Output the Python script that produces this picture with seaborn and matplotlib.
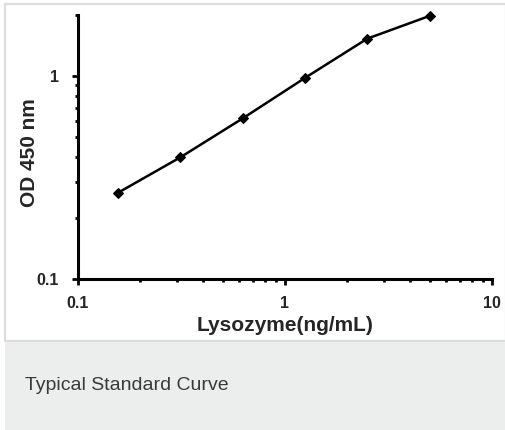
import numpy as np
import pandas as pd
import matplotlib
matplotlib.use("Agg")
import matplotlib.pyplot as plt
import matplotlib.ticker as mticker
from matplotlib.patches import Rectangle
import seaborn as sns

# 标准曲线数据
conc = [0.156, 0.3125, 0.625, 1.25, 2.5, 5.0]
od450 = [0.266, 0.398, 0.619, 0.98, 1.53, 1.98]

x_ticks = [0.1, 1, 10]
x_tick_labels = ["0.1", "1", "10"]
y_ticks = [0.1, 1]
y_tick_labels = ["0.1", "1"]

sns.set_style("white")
plt.rcParams['font.family'] = ['Liberation Sans', 'DejaVu Sans']

df = pd.DataFrame({"conc": conc, "od": od450})

fig = plt.figure(figsize=(5.06, 4.30), dpi=100)
W, H = 506, 430

# 背景: 白框 + 灰色标题栏
fig.patches.append(Rectangle((5 / W, 1 - 341 / H), 1 - 5 / W, (341 - 4) / H,
                             transform=fig.transFigure, facecolor='white',
                             edgecolor='#dddddd', linewidth=1.6, zorder=-2))
fig.patches.append(Rectangle((5 / W, 0), 1 - 5 / W, (H - 342) / H,
                             transform=fig.transFigure, facecolor='#eceeed',
                             edgecolor='none', zorder=-2))

ax = fig.add_axes([78 / W, 1 - 279 / H, (492 - 78) / W, (279 - 15) / H])
ax.set_facecolor('none')

sns.lineplot(data=df, x="conc", y="od", ax=ax, color='black', linewidth=1.8,
             marker='D', markersize=5, markeredgecolor='black')
for ln in ax.lines:
    ln.set_clip_on(False)

ax.set_xscale('log')
ax.set_yscale('log')
ax.set_xlim(0.1, 10)
ax.set_ylim(0.1, 2)

ax.set_xticks(x_ticks)
ax.set_xticklabels(x_tick_labels)
ax.set_yticks(y_ticks)
ax.set_yticklabels(y_tick_labels)
ax.xaxis.set_minor_locator(mticker.LogLocator(base=10, subs=np.arange(2, 10)))
ax.yaxis.set_minor_locator(mticker.LogLocator(base=10, subs=np.arange(2, 10)))
ax.xaxis.set_minor_formatter(mticker.NullFormatter())
ax.yaxis.set_minor_formatter(mticker.NullFormatter())

for s in ['top', 'right']:
    ax.spines[s].set_visible(False)
for s in ['left', 'bottom']:
    ax.spines[s].set_linewidth(2.2)
    ax.spines[s].set_color('black')

ax.tick_params(which='major', direction='out', length=4, width=2, color='black',
               labelsize=11.5, bottom=True, left=True)
ax.tick_params(which='minor', direction='out', length=2.5, width=2, color='black',
               bottom=True, left=True)
ax.tick_params(axis='x', which='major', pad=8)
ax.tick_params(axis='y', which='major', pad=9.5)
for lab in ax.get_xticklabels() + ax.get_yticklabels():
    lab.set_fontweight('bold')

ax.set_xlabel('Lysozyme(ng/mL)', fontsize=15, fontweight='bold', labelpad=4)
ax.set_ylabel('OD 450 nm', fontsize=15, fontweight='bold')
ax.yaxis.set_label_coords(-0.095, 0.48)

fig.text(25 / W, 1 - 386 / H, 'Typical Standard Curve', fontsize=14,
         color='#3a3a3a', ha='left', va='center')

fig.savefig("out.png", dpi=100)
